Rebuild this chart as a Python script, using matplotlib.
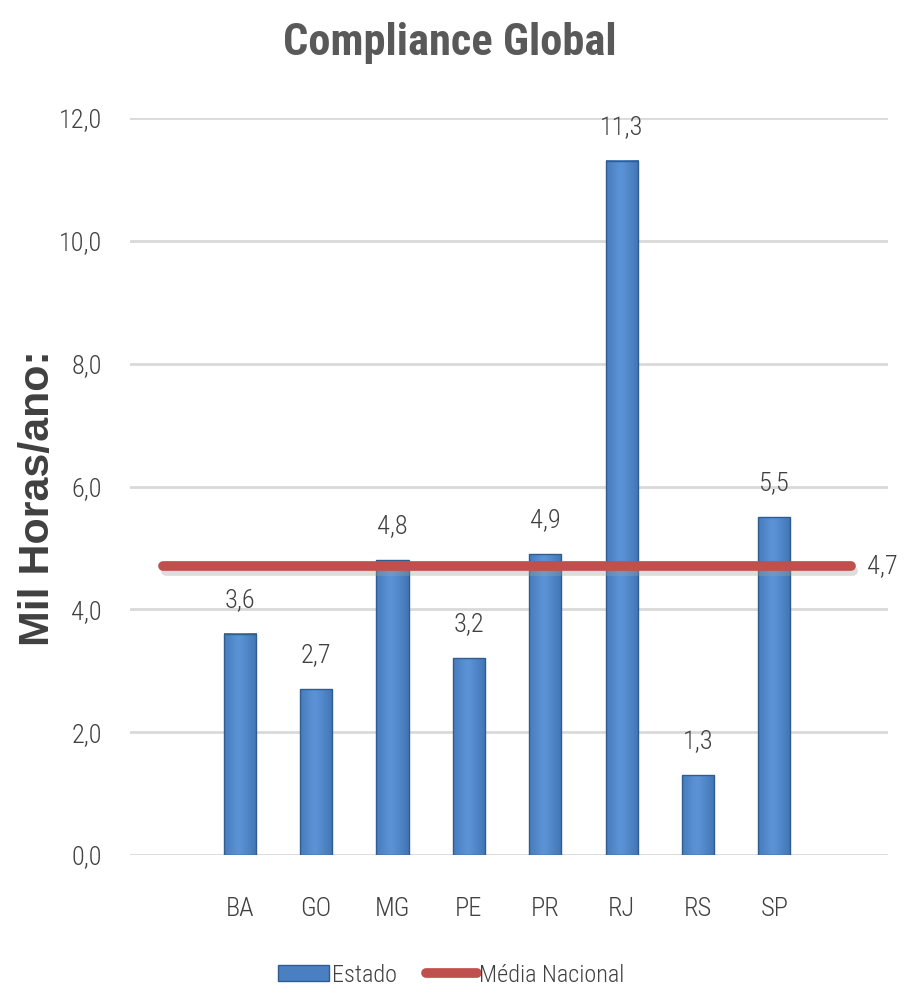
import matplotlib
matplotlib.use("Agg")
import matplotlib.pyplot as plt
import numpy as np
from matplotlib.patches import Rectangle
from matplotlib.lines import Line2D
from matplotlib import font_manager
from matplotlib.colors import LinearSegmentedColormap

categories = ["BA", "GO", "MG", "PE", "PR", "RJ", "RS", "SP"]
estado = [3.6, 2.7, 4.8, 3.2, 4.9, 11.3, 1.3, 5.5]
media_nacional = 4.7
yticks = [0, 2, 4, 6, 8, 10, 12]
title = "Compliance Global"
ylabel = "Mil Horas/ano:"

avail = {f.name for f in font_manager.fontManager.ttflist}
cond = None
for cand in ["Roboto Condensed", "Liberation Sans Narrow", "Open Sans Condensed", "Noto Sans"]:
    if cand in avail:
        cond = cand
        break
if cond is None:
    cond = "DejaVu Sans"

txtc = "#404040"
fs = 19
fig = plt.figure(figsize=(9.08, 9.94), dpi=100)
ax = fig.add_axes([0.143, 0.1398, 0.835, 0.7415])
x = np.arange(len(categories))
bw = 0.42

grad = np.linspace(0, 1, 64)
prof = 1 - 0.55 * np.abs(grad - 0.45) ** 1.2 * 2
cmap = LinearSegmentedColormap.from_list("b", ["#2a5a97", "#5b93d6"])
img = np.tile(prof, (2, 1))
for xi, v in zip(x, estado):
    ax.imshow(img, extent=[xi - bw / 2, xi + bw / 2, 0, v], aspect="auto",
              cmap=cmap, vmin=0, vmax=1, zorder=2, interpolation="bilinear")
    ax.add_patch(Rectangle((xi - bw / 2, 0), bw, v, fill=False,
                           edgecolor="#2f5d92", lw=1.0, zorder=3))
    ax.annotate(f"{v:.1f}".replace(".", ","), (xi, v), xytext=(0, 16),
                textcoords="offset points", ha="center", va="bottom",
                fontsize=fs, color=txtc, family=cond, fontweight="light")

ax.plot([-1, 8], [media_nacional] * 2, color="#a0a0a0", lw=7, alpha=0.35,
        solid_capstyle="round", zorder=4,
        transform=ax.transData + matplotlib.transforms.ScaledTranslation(2/72, -3/72, fig.dpi_scale_trans))
ax.plot([-1, 8], [media_nacional] * 2, color="#c0504d", lw=7,
        solid_capstyle="round", zorder=5)
ax.annotate(f"{media_nacional:.1f}".replace(".", ","), (8, media_nacional),
            xytext=(12, 0), textcoords="offset points", ha="left", va="center",
            fontsize=fs, color=txtc, family=cond, fontweight="light",
            annotation_clip=False)

ax.set_xlim(-1.44, 8.49)
ax.set_ylim(0, 12)
ax.set_yticks(yticks)
ax.set_yticklabels([f"{t:.1f}".replace(".", ",") for t in yticks],
                   fontsize=fs, color=txtc, family=cond, fontweight="light")
ax.set_xticks(x)
ax.set_xticklabels(categories, fontsize=fs, color=txtc, family=cond, fontweight="light")
ax.tick_params(axis="y", length=0, pad=20)
ax.tick_params(axis="x", length=0, pad=30)
ax.grid(axis="y", color="#d9d9d9", lw=2, zorder=0)
ax.set_axisbelow(True)
for s in ax.spines.values():
    s.set_visible(False)

fig.text(0.495, 0.957, title, ha="center", va="center", fontsize=32,
         fontweight="bold", color="#595959", family=cond)
fig.text(0.042, 0.499, ylabel, ha="center", va="center", rotation=90,
         fontsize=31, fontweight="bold", color=txtc, family="Liberation Sans")

handles = [Rectangle((0, 0), 1, 1, facecolor="#4a7fc1", edgecolor="#2f5d92"),
           Line2D([0], [0], color="#c0504d", lw=7, solid_capstyle="round")]
fig.legend(handles, ["Estado", "Média Nacional"], loc="center",
           bbox_to_anchor=(0.497, 0.019), ncol=2, frameon=False,
           prop={"family": cond, "size": 17.5, "weight": "light"}, labelcolor=txtc,
           handlelength=2.1, handleheight=0.65, handletextpad=0.1, columnspacing=1.2)

fig.savefig("out.png", dpi=100)
